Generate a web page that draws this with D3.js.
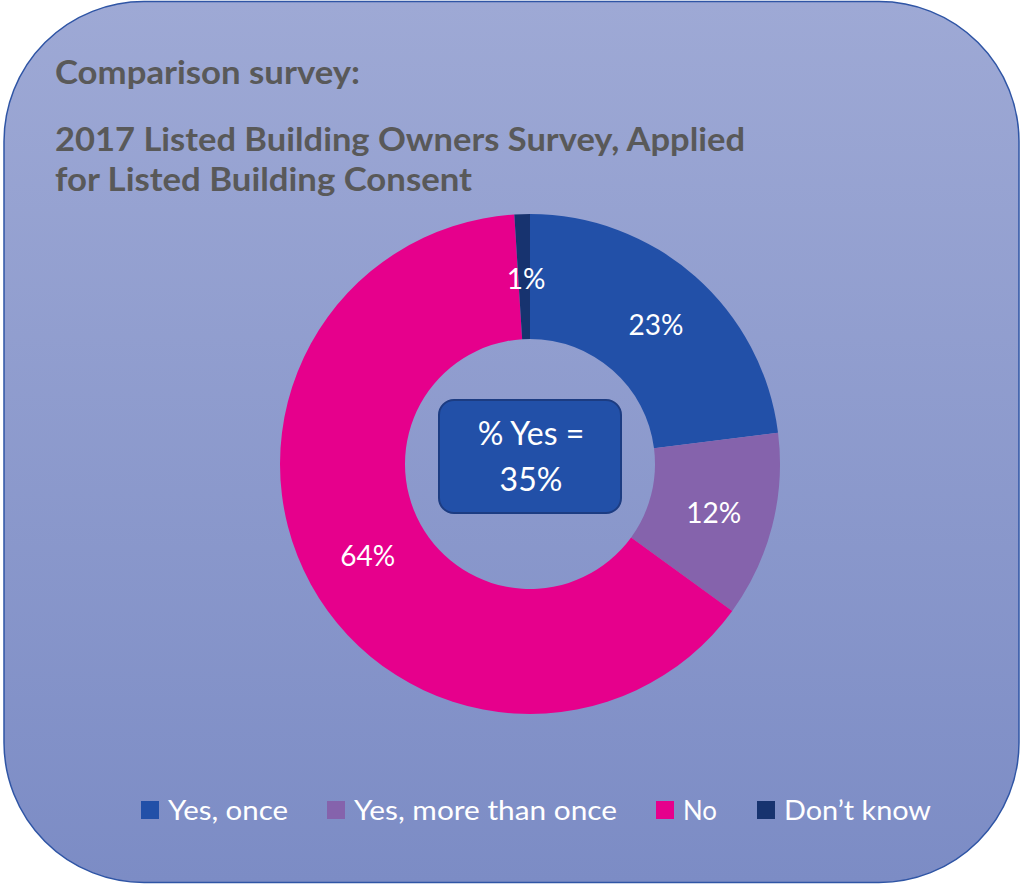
<!DOCTYPE html>
<html><head><meta charset="utf-8">
<script src="https://cdn.jsdelivr.net/npm/d3@7"></script>
<style>html,body{margin:0;padding:0;background:#fff;}svg{display:block;}</style>
</head><body>
<script>
const categories = ["Yes, once", "Yes, more than once", "No", "Don’t know"];
const values = [23, 12, 64, 1];
const labels = ["23%", "12%", "64%", "1%"];
const colors = ["#2250A8", "#8563AC", "#E6008C", "#17336F"];
const titleLines = ["Comparison survey:", "2017 Listed Building Owners Survey, Applied", "for Listed Building Consent"];
const centerLines = ["% Yes =", "35%"];

const W = 1022, H = 885;
const svg = d3.select("body").append("svg").attr("width", W).attr("height", H);
const defs = svg.append("defs");
const grad = defs.append("linearGradient").attr("id", "bg").attr("x1", 0).attr("y1", 0).attr("x2", 0).attr("y2", 1);
grad.append("stop").attr("offset", "0%").attr("stop-color", "#9EA9D5");
grad.append("stop").attr("offset", "100%").attr("stop-color", "#7C8CC5");

svg.append("rect").attr("x", 4).attr("y", 1.5).attr("width", 1015).attr("height", 881)
  .attr("rx", 140).attr("ry", 140).attr("fill", "url(#bg)")
  .attr("stroke", "#2F55A5").attr("stroke-width", 1.5);

const font = "Lato, 'Open Sans', sans-serif";
const title = svg.append("g").attr("font-family", font).attr("font-weight", "bold")
  .attr("fill", "#595959").attr("font-size", 32);
const tY = [84, 151, 191];
const tW = [305, 690, 417];
titleLines.forEach((t, i) => title.append("text").attr("x", 55).attr("y", tY[i])
  .attr("textLength", tW[i]).attr("lengthAdjust", "spacingAndGlyphs").text(t));

const cx = 530, cy = 464, R = 250, r0 = 125;
const pie = d3.pie().sort(null).value(d => d)(values);
const arc = d3.arc().innerRadius(r0).outerRadius(R);
const g = svg.append("g").attr("transform", `translate(${cx},${cy})`);
g.selectAll("path").data(pie).join("path").attr("d", arc).attr("fill", (d, i) => colors[i]);
g.selectAll("text").data(pie).join("text")
  .attr("transform", d => { const c = arc.centroid(d); return `translate(${c[0] + 2},${c[1] + 2})`; })
  .attr("text-anchor", "middle").attr("dy", "0.36em")
  .attr("font-family", font).attr("font-size", 28).attr("fill", "#fff")
  .text((d, i) => labels[i]);

svg.append("rect").attr("x", 439).attr("y", 400).attr("width", 182).attr("height", 113)
  .attr("rx", 15).attr("fill", "#2250A8").attr("stroke", "#1C3C82").attr("stroke-width", 2);
centerLines.forEach((t, i) => svg.append("text").attr("x", 531).attr("y", 445 + i * 46)
  .attr("text-anchor", "middle").attr("font-family", font).attr("font-size", 32)
  .attr("fill", "#fff").text(t));

const legX = [141, 327, 656, 757];
const legW = [120, 263, 34, 147];
const leg = svg.append("g").attr("font-family", font).attr("font-size", 27).attr("fill", "#fff");
categories.forEach((c, i) => {
  leg.append("rect").attr("x", legX[i]).attr("y", 801).attr("width", 18).attr("height", 18).attr("fill", colors[i]);
  leg.append("text").attr("x", legX[i] + 27).attr("y", 820)
    .attr("textLength", legW[i]).attr("lengthAdjust", "spacingAndGlyphs").text(c);
});
</script>
</body></html>
